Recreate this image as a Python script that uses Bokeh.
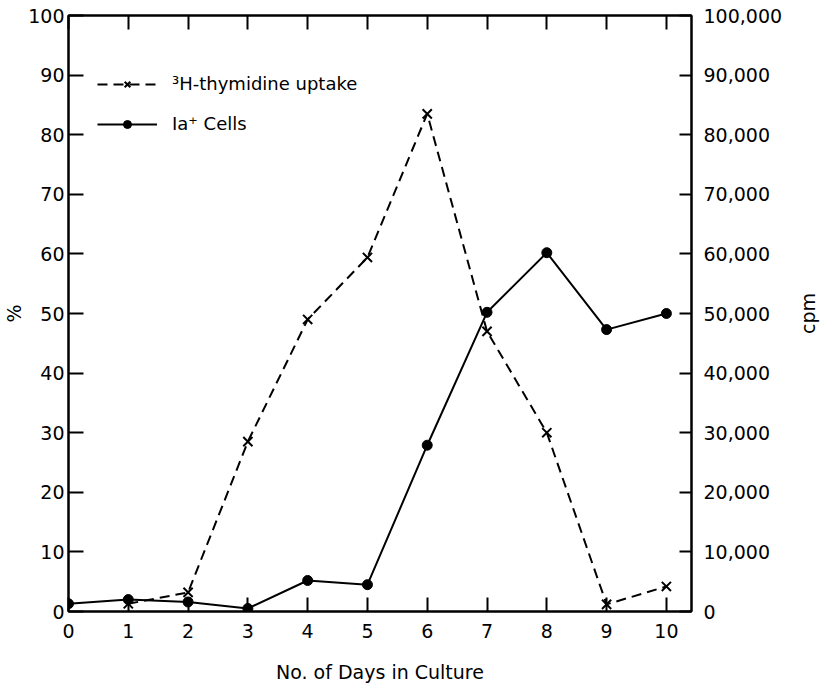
from bokeh.plotting import figure
from bokeh.layouts import row
from bokeh.models import (Range1d, LinearAxis, FixedTicker, NumeralTickFormatter,
                          Legend, LegendItem)
from bokeh.embed import file_html
from bokeh.resources import INLINE

# ---- data ----
days_cells = [0, 1, 2, 3, 4, 5, 6, 7, 8, 9, 10]
ia_cells_pct = [1.3, 2.0, 1.6, 0.5, 5.2, 4.5, 27.9, 50.2, 60.2, 47.3, 50.0]

days_thy = [1, 2, 3, 4, 5, 6, 7, 8, 9, 10]
thymidine_cpm = [1300, 3200, 28500, 49000, 59400, 83500, 47000, 30000, 1200, 4200]

x_ticks = [0, 1, 2, 3, 4, 5, 6, 7, 8, 9, 10]
pct_ticks = [0, 10, 20, 30, 40, 50, 60, 70, 80, 90, 100]
cpm_ticks = [0, 10000, 20000, 30000, 40000, 50000, 60000, 70000, 80000, 90000, 100000]

legend_thy = "\u00b3H-thymidine uptake"
legend_cells = "Ia\u207a Cells"
right_title = "cpm"

FONT = "DejaVu Sans"
FS = "19px"
X_END = 10.42

p = figure(width=792, height=688, output_backend="svg", toolbar_location=None,
           x_range=Range1d(0, X_END), y_range=Range1d(0, 100),
           min_border_left=66, min_border_right=101, min_border_top=15,
           min_border_bottom=77, x_axis_label="No. of Days in Culture",
           y_axis_label="%")
p.extra_y_ranges = {"cpm": Range1d(0, 100000)}
p.grid.visible = False
p.outline_line_color = "black"
p.outline_line_width = 2
p.background_fill_color = "white"
p.border_fill_color = "white"

def style_axis(ax, tick_in):
    ax.axis_line_color = "black"
    ax.axis_line_width = 2
    ax.major_tick_line_color = "black"
    ax.major_tick_line_width = 2
    ax.major_tick_in = tick_in
    ax.major_tick_out = 0
    ax.minor_tick_line_color = None
    ax.major_label_text_font = FONT
    ax.major_label_text_font_size = FS
    ax.major_label_text_color = "black"
    ax.axis_label_text_font = FONT
    ax.axis_label_text_font_size = "19px"
    ax.axis_label_text_font_style = "normal"
    ax.axis_label_text_color = "black"

xa = p.xaxis[0]
style_axis(xa, 14)
xa.ticker = FixedTicker(ticks=x_ticks)
xa.major_label_standoff = 12
xa.axis_label_standoff = 20

ya = p.yaxis[0]
style_axis(ya, 15)
ya.ticker = FixedTicker(ticks=pct_ticks)
ya.major_label_standoff = 4
ya.axis_label_standoff = 0

ra = LinearAxis(y_range_name="cpm")
style_axis(ra, 12)
ra.ticker = FixedTicker(ticks=cpm_ticks)
ra.formatter = NumeralTickFormatter(format="0,0")
ra.major_label_standoff = 12
p.add_layout(ra, "right")

ta = LinearAxis()
style_axis(ta, 14)
ta.ticker = FixedTicker(ticks=x_ticks)
ta.major_label_overrides = {t: "" for t in x_ticks}
ta.major_label_standoff = 0
p.add_layout(ta, "above")

thy_line = p.line(days_thy, thymidine_cpm, y_range_name="cpm", line_color="black",
                  line_width=2, line_dash="10 6")
thy_pts = p.scatter(days_thy, thymidine_cpm, y_range_name="cpm", marker="x",
                    size=13, line_color="black", line_width=2)
cell_line = p.line(days_cells, ia_cells_pct, line_color="black", line_width=2)
cell_pts = p.scatter(days_cells, ia_cells_pct, marker="circle", size=10,
                     fill_color="black", line_color="black")

legend = Legend(items=[LegendItem(label=legend_thy, renderers=[thy_line, thy_pts]),
                       LegendItem(label=legend_cells, renderers=[cell_line, cell_pts])],
                location=(29, 477), padding=0, margin=0, spacing=19,
                glyph_width=60, glyph_height=20, label_standoff=15,
                label_text_font=FONT, label_text_font_size="18px",
                label_text_color="black",
                background_fill_alpha=0, border_line_alpha=0)
p.add_layout(legend)

# narrow companion figure that carries the right-hand title "cpm",
# reading bottom-to-top as in the reference
p2 = figure(width=34, height=688, output_backend="svg", toolbar_location=None,
            x_range=Range1d(0, 1), y_range=Range1d(0, 100000),
            min_border_left=26, min_border_right=0, min_border_top=15,
            min_border_bottom=77, y_axis_label=right_title)
p2.outline_line_color = None
p2.grid.visible = False
p2.xaxis.visible = False
p2.background_fill_color = "white"
p2.border_fill_color = "white"
ya2 = p2.yaxis[0]
ya2.ticker = FixedTicker(ticks=[])
ya2.axis_line_color = None
ya2.major_tick_line_color = None
ya2.minor_tick_line_color = None
ya2.major_label_standoff = 0
ya2.axis_label_standoff = 0
ya2.axis_label_text_font = FONT
ya2.axis_label_text_font_size = "19px"
ya2.axis_label_text_font_style = "normal"
ya2.axis_label_text_color = "black"

layout = row(p, p2, spacing=0)

open("out.html", "w").write(file_html(layout, INLINE))
